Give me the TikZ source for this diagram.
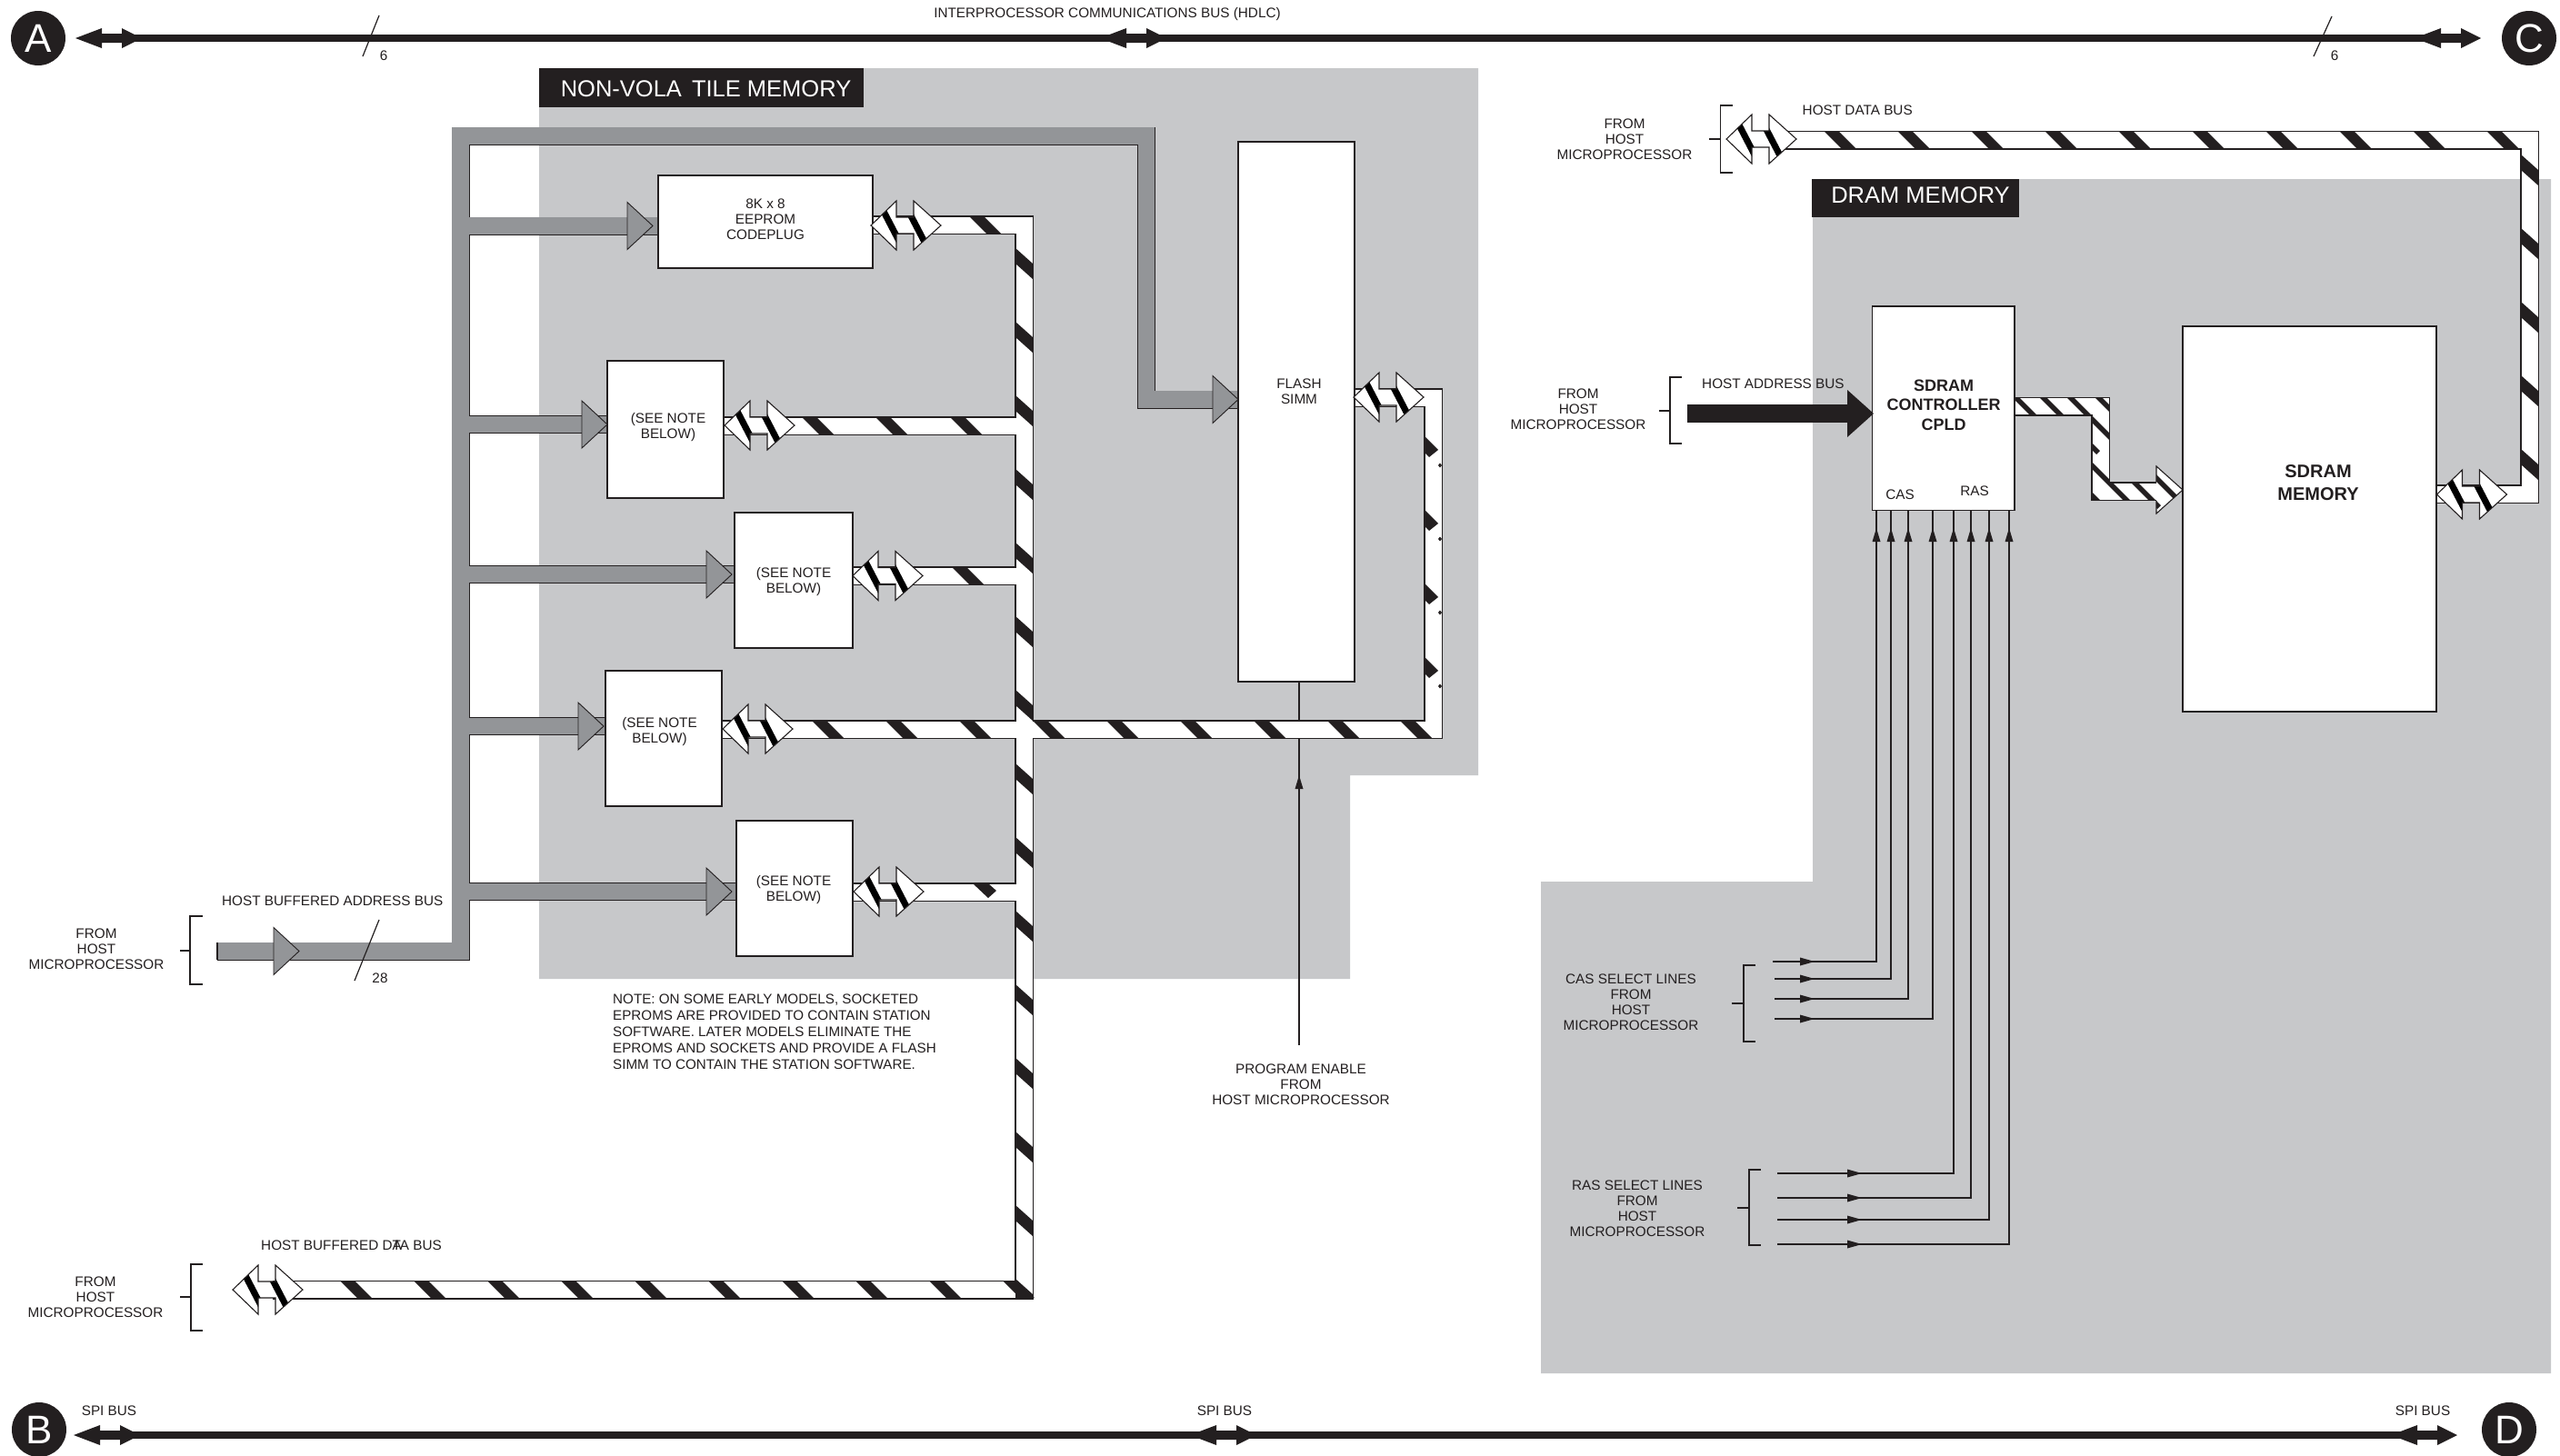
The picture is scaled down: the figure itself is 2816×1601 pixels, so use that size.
\documentclass[tikz,border=0pt]{standalone}
\usepackage{fontspec}
\setmainfont{Liberation Sans}
\definecolor{ink}{HTML}{231F20}
\definecolor{panel}{HTML}{C7C8CA}
\definecolor{addr}{HTML}{939598}
\newcommand\dheadshape{(0,0) -- (28,-27) -- (28,-9) -- (47,-9) -- (47,-27) -- (77,0) -- (47,27) -- (47,9) -- (28,9) -- (28,27) -- cycle}
\newcommand\addrnet{(ain) -- (acorner) -- (atop) -- (atopr) -- (aturn) -- (flash.west |- aturn)
  (aee) -- (aee -| eeprom.west) (atwo) -- (atwo -| boxtwo.west) (athree) -- (athree -| boxthree.west)
  (afour) -- (afour -| boxfour.west) (afive) -- (afive -| boxfive.west)}
\newcommand\datanet{(dbin) -- (dbcorner) -- (dbtop) -- (eeprom.east |- dbtop)
  (boxtwo.east |- dtwo) -- (dtwo) (boxthree.east |- dthree) -- (dthree)
  (boxfour.east |- dfour) -- (fcorner) -- (ftop) -- (flash.east |- ftop)
  (boxfive.east |- dfive) -- (dfive)}
\newcommand\hostnet{(hd1) -- (hd2) -- (hd3) -- (sdram.east |- hd3)}
\newcommand\cpldnet{(cpld.east |- cp1) -- (cp2) -- (cp3) -- (cp4)}
\newcommand\hstr[3]{\foreach \s in {#3}{\fill[ink] (\s,#1) -- (\s+16,#1) -- (\s+16+#2-#1,#2) -- (\s+#2-#1,#2) -- cycle;}}
\newcommand\vstr[3]{\foreach \s in {#3}{\fill[ink] (#1,\s) -- (#2,\s+17) -- (#2,\s+34) -- (#1,\s+17) -- cycle;}}
\tikzset{
  lbl/.style={font=\fontsize{15.3}{17}\selectfont,text=ink,align=center,inner sep=0pt},
  box/.style={draw=ink,fill=white,line width=1.4pt,inner sep=0pt},
  title/.style={fill=ink,text=white,inner sep=0pt,font=\fontsize{25.5}{28}\selectfont},
  letter/.style={circle,fill=ink,text=white,minimum size=60pt,inner sep=0pt,font=\fontsize{44}{44}\selectfont},
  busout/.style={draw=ink,line width=21pt,miter limit=10},
  busin/.style={draw=white,line width=18pt,miter limit=10},
  addrout/.style={draw=ink,line width=20pt,miter limit=10},
  addrin/.style={draw=addr,line width=18.2pt,miter limit=10},
  sig/.style={draw=ink,line width=1.3pt},
  thin/.style={draw=ink,line width=1.2pt},
  trunk/.style={draw=ink,line width=8.5pt},
  dhead/.pic={
    \fill[white] \dheadshape;
    \begin{scope}\clip \dheadshape;
      \fill[black] (22-15.6-4,-30) -- (22-15.6+4,-30) -- (22+15.6+4,30) -- (22+15.6-4,30) -- cycle;
      \fill[black] (49.5-15.6-4,-30) -- (49.5-15.6+4,-30) -- (49.5+15.6+4,30) -- (49.5+15.6-4,30) -- cycle;
    \end{scope}
    \draw[ink,line width=1.1pt,line join=miter] \dheadshape;},
  ghead/.pic={\draw[fill=addr,draw=ink,line width=0.9pt] (0,0) -- (-28,-26) -- (-28,26) -- cycle;},
  kbhead/.pic={\fill[ink] (0,0) -- (29,-11) -- (29,-5) -- (51,-5) -- (51,-11) -- (73,0) -- (51,11) -- (51,5) -- (29,5) -- (29,11) -- cycle;},
  rtri/.pic={\fill[ink] (0,0) -- (-16,-4.5) -- (-16,4.5) -- cycle;},
  utri/.pic={\fill[ink] (0,0) -- (-4.5,15) -- (4.5,15) -- cycle;},
  fstripe/.pic={\fill[ink] (0,0) -- (15,15) -- (5,23) -- (0,18) -- cycle; \fill[ink] (17,29.5) -- (19,32) -- (17,34.5) -- (15,32) -- cycle;},
  cstripe/.style={draw=ink,line width=5.5pt},
}
\begin{document}
\begin{tikzpicture}[x=1pt,y=-1pt,line join=miter]
\useasboundingbox (0,0) rectangle (2816,1601);
\fill[white] (0,0) rectangle (2816,1601);
% panels
\fill[panel] (593,75) -- (1626,75) -- (1626,853) -- (1485,853) -- (1485,1077) -- (593,1077) -- cycle;
\fill[panel] (1994,197) -- (2806,197) -- (2806,1511) -- (1695,1511) -- (1695,970) -- (1994,970) -- cycle;
\fill[ink] (593,75) rectangle (950,118);
\fill[ink] (1993,197) rectangle (2221,239);
\node[title] (nvmtitle) at (776.5,97.5) {NON-VOLA\hspace{4pt} TILE MEMORY};
\node[title] (dramtitle) at (2112.5,215) {DRAM MEMORY};
% program enable line (below the buses and boxes)
\coordinate (pe1) at (1429,750);
\coordinate (pe2) at (1429,1150);
\draw[thin] (pe1) -- (pe2);
\path (1429,853) pic {utri};
% boxes
\node[box,minimum width=236pt,minimum height=102pt] (eeprom) at (842,244) {};
\node[box,minimum width=128pt,minimum height=151pt] (boxtwo) at (732,472.5) {};
\node[box,minimum width=130pt,minimum height=149pt] (boxthree) at (873,638.5) {};
\node[box,minimum width=128pt,minimum height=149pt] (boxfour) at (730,812.5) {};
\node[box,minimum width=128pt,minimum height=149pt] (boxfive) at (874,977.5) {};
\node[box,minimum width=128pt,minimum height=594pt] (flash) at (1426,453) {};
\node[box,minimum width=156.5pt,minimum height=224.5pt] (cpld) at (2137.75,449.25) {};
\node[box,minimum width=279pt,minimum height=424pt] (sdram) at (2540.5,571) {};
\node[lbl] (eetext) at (842,241) {8K x 8\\EEPROM\\CODEPLUG};
\node[lbl] (twotext) at (735,470.5) {(SEE NOTE\\BELOW)};
\node[lbl] (threetext) at (873,640) {(SEE NOTE\\BELOW)};
\node[lbl] (fourtext) at (725.5,805.5) {(SEE NOTE\\BELOW)};
\node[lbl] (fivetext) at (873,979.5) {(SEE NOTE\\BELOW)};
\node[lbl] (flashtext) at (1429,430.5) {FLASH\\SIMM};
\node[lbl,font=\bfseries\fontsize{18}{21.5}\selectfont] (cpldtext) at (2138,445.5) {SDRAM\\CONTROLLER\\CPLD};
\node[lbl,font=\bfseries\fontsize{20}{25}\selectfont] (sdramtext) at (2550,531) {SDRAM\\MEMORY};
\node[lbl] (castext) at (2090,544) {CAS};
\node[lbl] (rastext) at (2172,540) {RAS};
% address bus net
\coordinate (ain) at (239,1046.5);
\coordinate (acorner) at (506.5,1046.5);
\coordinate (atop) at (506.5,149.5);
\coordinate (atopr) at (1261,149.5);
\coordinate (aturn) at (1261,439.5);
\coordinate (aee) at (506.5,248.5);
\coordinate (atwo) at (506.5,467);
\coordinate (athree) at (506.5,632);
\coordinate (afour) at (506.5,799);
\coordinate (afive) at (506.5,981);
\draw[addrout] \addrnet;
\draw[addrin] \addrnet;
\draw[ink,line width=1.2pt] (239,1037) -- (239,1056);
\path (329,1046.5) pic {ghead} (718,248.5) pic {ghead} (668,467) pic {ghead} (805,632) pic {ghead} (664,799) pic {ghead} (805,981) pic {ghead} (1362,439.5) pic {ghead};
% data bus net
\coordinate (dbin) at (300,1419);
\coordinate (dbcorner) at (1126.5,1419);
\coordinate (dbtop) at (1126.5,247.5);
\coordinate (dtwo) at (1126.5,468.5);
\coordinate (dthree) at (1126.5,633.5);
\coordinate (dfour) at (1126.5,802.5);
\coordinate (dfive) at (1126.5,981.5);
\coordinate (fcorner) at (1576.5,802.5);
\coordinate (ftop) at (1576.5,437.5);
\draw[busout] \datanet;
\draw[busin] \datanet;
\hstr{238}{257}{1066}
\hstr{459}{478}{882,963,1045}
\hstr{624}{643}{1047}
\hstr{793}{812}{893,974,1055,1136,1217,1298,1379,1460,1540}
\hstr{1410}{1428}{375,456,537,618,699,780,861,942,1023,1104}
\vstr{1117}{1136}{273,354,435,516,597,678,759,840,921,1002,1083,1164,1245,1326}
\fill[ink] (1117,1407) -- (1136,1424) -- (1136,1429) -- (1117,1429) -- cycle;
\fill[ink] (1070,972) -- (1087,972) -- (1096,980) -- (1087,988) -- cycle;
\path (1567,480) pic {fstripe} (1567,561) pic {fstripe} (1567,642) pic {fstripe} (1567,723) pic {fstripe};
\path (958,248) pic {dhead} (797,468) pic {dhead} (938,633.5) pic {dhead} (795,802) pic {dhead} (939,981) pic {dhead} (256,1419) pic {dhead} (1489,437) pic {dhead};
% host data bus
\coordinate (hd1) at (1960,154);
\coordinate (hd2) at (2782.5,154);
\coordinate (hd3) at (2782.5,543.5);
\draw[busout] \hostnet;
\draw[busin] \hostnet;
\hstr{145}{163}{2007,2088,2169,2250,2331,2412,2493,2574,2655,2736}
\vstr{2773}{2792}{170,251,332,413,494}
\path (1899,153) pic {dhead} (2680.5,544) pic {dhead};
% controller to memory bus
\coordinate (cp1) at (2216,447);
\coordinate (cp2) at (2310.5,447);
\coordinate (cp3) at (2310.5,540.5);
\coordinate (cp4) at (2380,540.5);
\draw[busout] \cpldnet;
\draw[busin] \cpldnet;
\draw[draw=ink,fill=white,line width=1.1pt] (2372,530) -- (2372,513) -- (2401,539) -- (2372,565) -- (2372,551);
\begin{scope}
  \clip (2216,437) rectangle (2320,457) (2301,437) rectangle (2320,550) (2301,531) rectangle (2372,550) (2372,513) -- (2401,539) -- (2372,565) -- cycle;
  \draw[cstripe] (2212,432) -- (2240,460);
  \draw[cstripe] (2242,432) -- (2270,460);
  \draw[cstripe] (2272,432) -- (2325,485);
  \draw[cstripe] (2303,432) -- (2330,459);
  \draw[cstripe] (2296,486) -- (2308,498);
  \draw[cstripe] (2296,507) -- (2345,556);
  \draw[cstripe] (2345,528) -- (2375,558);
  \draw[cstripe] (2370,524) -- (2394,548);
  \draw[cstripe] (2295,539) -- (2310,554);
\end{scope}
% black address arrow
\coordinate (ha1) at (1856,455);
\draw[draw=ink,line width=20pt] (ha1) -- (2040,455);
\fill[ink] (2061,455) -- (2032,429) -- (2032,481) -- cycle;
% CAS and RAS select lines
\foreach \i/\sx/\sy/\tx/\hx in {1/1950/1058/2064/1996,2/1952/1077/2080/1996,3/1952/1099/2099/1996,4/1952/1121/2126/1996,
  5/1955/1291/2149/2048,6/1955/1318/2168/2048,7/1955/1342/2188/2048,8/1955/1369/2210/2048}{
  \coordinate (s\i) at (\sx,\sy);
  \coordinate (t\i) at (\tx,561.5);
  \draw[sig] (s\i) -| (t\i);
  \path (\hx,\sy) pic {rtri} (\tx,581) pic {utri};
}
% trunk buses
\coordinate (tl) at (120,42);
\coordinate (tr) at (2690,42);
\coordinate (bl) at (120,1579);
\coordinate (br) at (2665,1579);
\draw[trunk] (tl) -- (tr);
\draw[trunk] (bl) -- (br);
\path (83,42) pic {kbhead} (1210,42) pic {kbhead} (2656,42) pic {kbhead};
\path (81,1579) pic {kbhead} (1309,1579) pic {kbhead} (2630,1579) pic {kbhead};
\node[letter] (A) at (42,42) {A};
\node[letter] (C) at (2782,42) {C};
\node[letter] (B) at (43,1573) {B};
\node[letter] (D) at (2760,1573) {D};
% ticks
\draw[thin] (399,62) -- (417,17);
\draw[thin] (2545,62) -- (2565,18);
\draw[thin] (390,1079) -- (417,1012);
% brackets
\draw[thin] (223,1008) -- (209,1008) -- (209,1083) -- (223,1083) (198,1046) -- (209,1046);
\draw[thin] (223,1391) -- (210,1391) -- (210,1464) -- (223,1464) (198,1427) -- (210,1427);
\draw[thin] (1906,116) -- (1892.5,116) -- (1892.5,190) -- (1906,190) (1880,153) -- (1892.5,153);
\draw[thin] (1850,415) -- (1837,415) -- (1837,488) -- (1850,488) (1825,452) -- (1837,452);
\draw[thin] (1931,1062) -- (1918,1062) -- (1918,1146) -- (1931,1146) (1905,1104) -- (1918,1104);
\draw[thin] (1937,1287) -- (1924,1287) -- (1924,1370) -- (1937,1370) (1911,1329) -- (1924,1329);
% labels
\node[lbl] (ipc) at (1218,15.5) {INTERPROCESSOR COMMUNICATIONS BUS (HDLC)};
\node[lbl] (six1) at (422,61) {6};
\node[lbl] (six2) at (2568,61) {6};
\node[lbl] (spi1) at (120,1552) {SPI BUS};
\node[lbl] (spi2) at (1347,1552) {SPI BUS};
\node[lbl] (spi3) at (2665,1552) {SPI BUS};
\node[lbl,anchor=west] (habl) at (244,991) {HOST BUFFERED ADDRESS BUS};
\node[lbl] (n28) at (418,1076) {28};
\node[lbl,anchor=west] (hdbl) at (287,1370) {HOST BUFFERED D\rlap{A}TA BUS};
\node[lbl,anchor=west] (hdl) at (1982.5,121) {HOST DATA BUS};
\node[lbl,anchor=west] (hal) at (1872,422) {HOST ADDRESS BUS};
\node[lbl] (from1) at (106,1044.5) {FROM\\HOST\\MICROPROCESSOR};
\node[lbl] (from2) at (105,1427) {FROM\\HOST\\MICROPROCESSOR};
\node[lbl] (from3) at (1787,153) {FROM\\HOST\\MICROPROCESSOR};
\node[lbl] (from4) at (1736,450.5) {FROM\\HOST\\MICROPROCESSOR};
\node[lbl] (cassel) at (1794,1102.5) {CAS SELECT LINES\\FROM\\HOST\\MICROPROCESSOR};
\node[lbl] (rassel) at (1801,1329.5) {RAS SELECT LINES\\FROM\\HOST\\MICROPROCESSOR};
\node[lbl] (pe) at (1431,1193.5) {PROGRAM ENABLE\\FROM\\HOST MICROPROCESSOR};
\node[lbl,anchor=west,align=left,font=\fontsize{15.2}{18}\selectfont] (note) at (674,1135) {NOTE: ON SOME EARLY MODELS, SOCKETED\\EPROMS ARE PROVIDED TO CONTAIN STATION\\SOFTWARE. LATER MODELS ELIMINATE THE\\EPROMS AND SOCKETS AND PROVIDE A FLASH\\SIMM TO CONTAIN THE STATION SOFTWARE.};
\end{tikzpicture}
\end{document}
